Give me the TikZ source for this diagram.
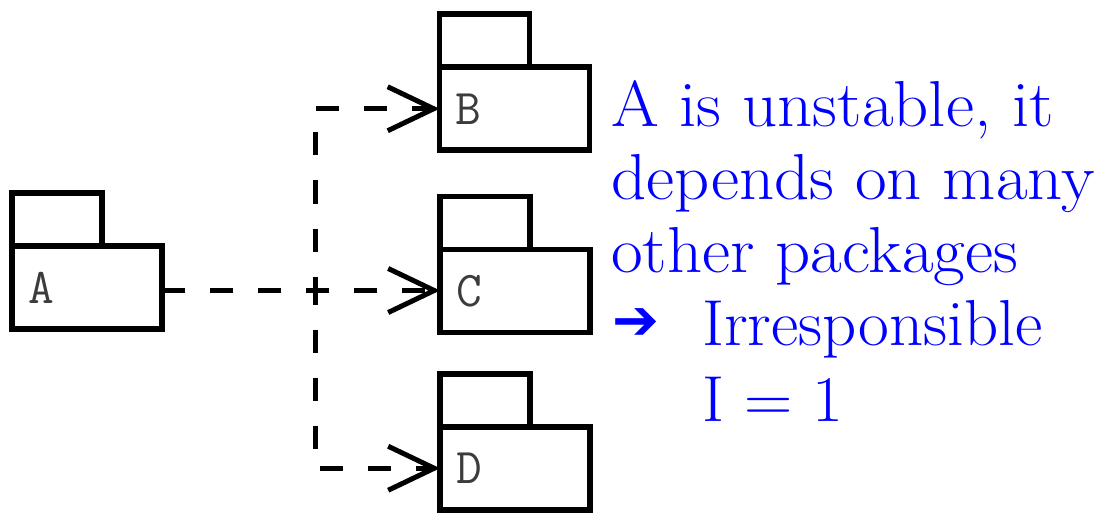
\documentclass[tikz,border=0pt]{standalone}
\usepackage{fontspec}
\usepackage{graphicx}
\newfontfamily\arrowfont{DejaVu Sans}
\usetikzlibrary{arrows.meta}
\definecolor{txtblue}{RGB}{0,0,255}
\definecolor{labelgray}{RGB}{60,60,60}
\begin{document}
\begin{tikzpicture}[x=1pt,y=-1pt,
  pkg/.style={draw=black, line width=5.5pt, minimum width=150pt, minimum height=83pt,
    inner sep=0pt, outer sep=0pt},
  pkgtab/.style={draw=black, line width=5.5pt, minimum width=90pt, minimum height=53pt,
    inner sep=0pt, outer sep=0pt, anchor=south west},
  pkglabel/.style={anchor=west, inner sep=0pt, text=labelgray,
    font=\ttfamily\fontsize{50}{50}\selectfont},
  dep/.style={line width=5pt, dash pattern=on 23pt off 25pt,
    -{Straight Barb[length=46pt,width=44pt]}},
  note/.style={anchor=base west, inner sep=0pt, text=txtblue,
    font=\fontsize{65}{65}\selectfont}]
\useasboundingbox (0,0) rectangle (1099,513);

% packages
\node[pkg] (A) at (87,287.5) {};
\node[pkgtab] (Atab) at (A.north west) {};
\node[pkglabel] (Alab) at ([xshift=16pt]A.west) {A};

\node[pkg] (B) at (514.5,108.75) {};
\node[pkgtab] (Btab) at (B.north west) {};
\node[pkglabel] (Blab) at ([xshift=16pt]B.west) {B};

\node[pkg] (C) at (515,290.75) {};
\node[pkgtab] (Ctab) at (C.north west) {};
\node[pkglabel] (Clab) at ([xshift=16pt]C.west) {C};

\node[pkg] (D) at (515,468.25) {};
\node[pkgtab] (Dtab) at (D.north west) {};
\node[pkglabel] (Dlab) at ([xshift=16pt]D.west) {D};

% dependencies
\coordinate (J) at (315,290.5);
\draw[dep] (A.east |- J) -- (J) |- (B.west);
\draw[dep] (A.east |- J) -- (C.west |- J);
\draw[dep] (A.east |- J) -- (J) |- (D.west);

% note
\node[note] (t1) at (611,127) {\scalebox{1.06}[1]{A is unstable, it}};
\node[note] (t2) at (611,200) {\scalebox{1.06}[1]{depends on many}};
\node[note] (t3) at (611,272) {\scalebox{1.06}[1]{other packages}};
\node[anchor=center, inner sep=0pt, text=txtblue, font=\arrowfont\fontsize{56}{56}\selectfont] (t4a) at (636,324.5) {➔};
\node[note] (t4) at (702,345) {\scalebox{1.03}[1]{Irresponsible}};
\node[note] (t5) at (702,421) {\scalebox{1.03}[1]{I\kern0.3em=\kern0.3em1}};
\end{tikzpicture}
\end{document}
